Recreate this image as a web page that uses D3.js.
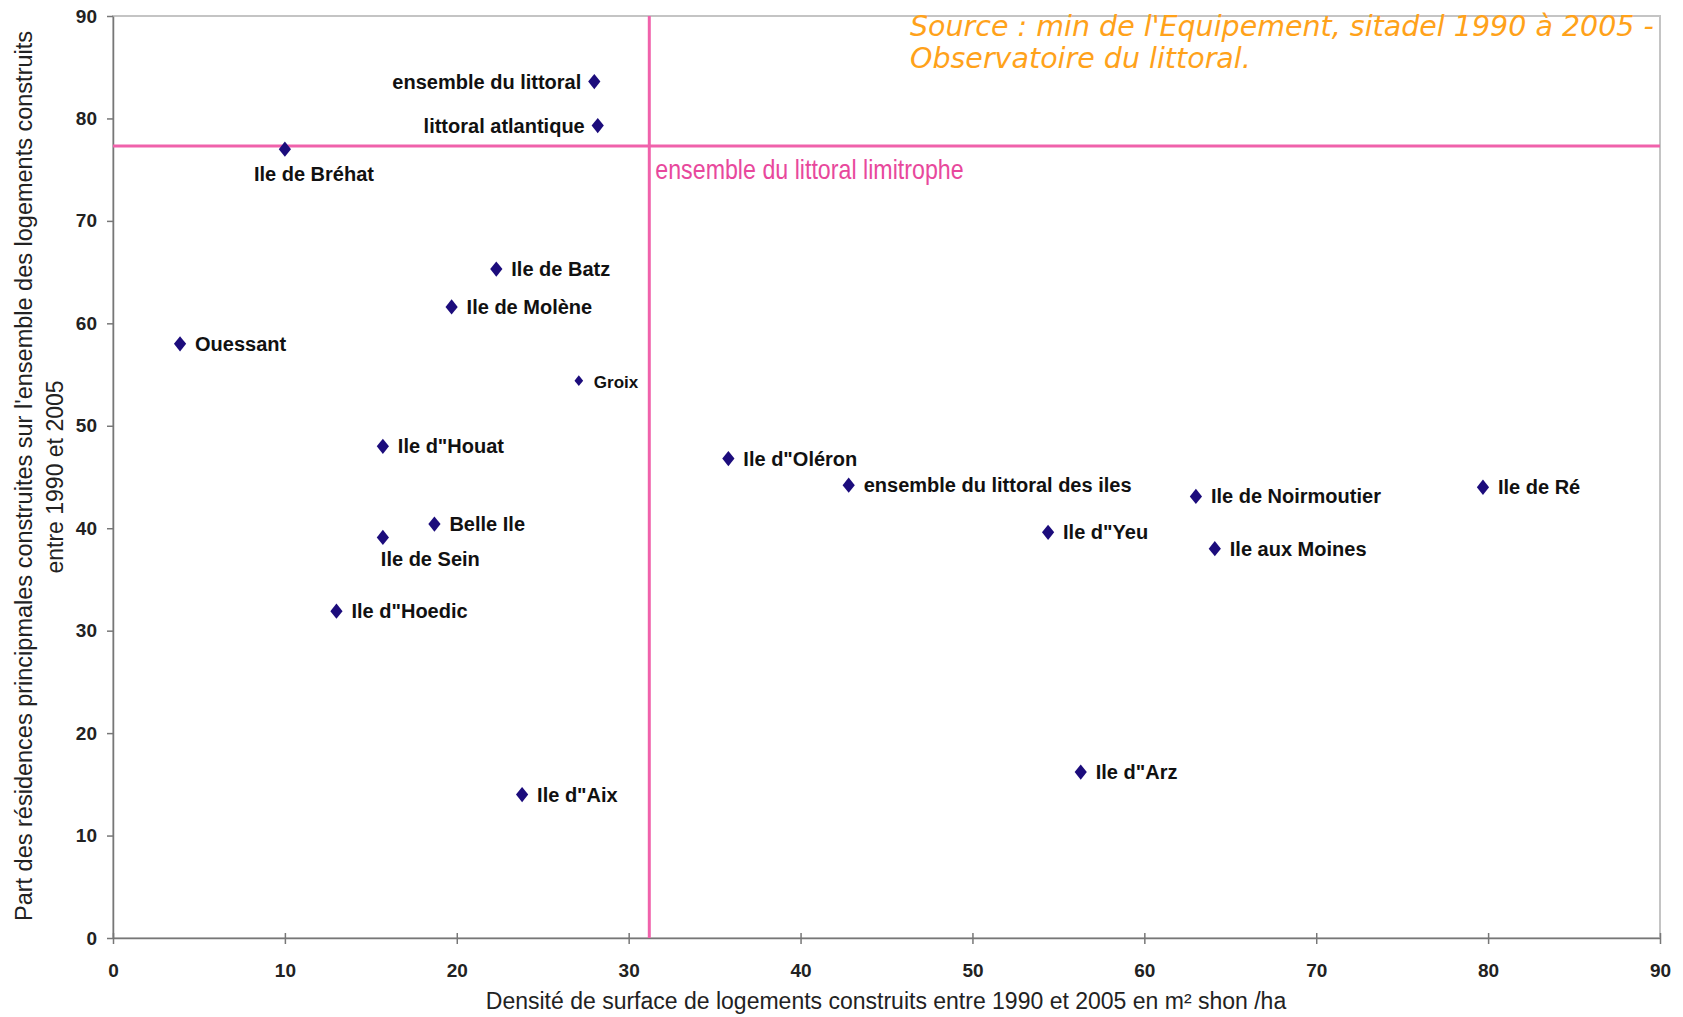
<!DOCTYPE html>
<html>
<head>
<meta charset="utf-8">
<script src="https://cdn.jsdelivr.net/npm/d3@7"></script>
<style>
	body{margin:0;background:#fff;}
	svg{display:block;}
	.lbl{font-family:"Liberation Sans",Arial,sans-serif;font-weight:bold;fill:#111;}
	.axis text{font-family:"Liberation Sans",Arial,sans-serif;font-weight:bold;font-size:19px;fill:#222;}
	.axis path, .axis line{stroke:#777;stroke-width:1.5;}
</style>
</head>
<body>
<svg width="1683" height="1017"></svg>
<script>
var names = ["ensemble du littoral", "littoral atlantique", "Ile de Bréhat", "Ile de Batz", "Ile de Molène",
	"Ouessant", "Groix", "Ile d\"Houat", "Ile d\"Oléron", "ensemble du littoral des iles", "Ile de Noirmoutier",
	"Ile de Ré", "Belle Ile", "Ile de Sein", "Ile d\"Yeu", "Ile aux Moines", "Ile d\"Hoedic", "Ile d\"Aix", "Ile d\"Arz"];
var densite = [28.0, 28.2, 10.0, 22.3, 19.7, 3.9, 27.1, 15.7, 35.8, 42.8, 63.0, 79.7, 18.7, 15.7, 54.4, 64.1, 13.0, 23.8, 56.3];
var partRP = [83.6, 79.3, 77.0, 65.3, 61.6, 58.0, 54.4, 48.0, 46.8, 44.2, 43.1, 44.0, 40.4, 39.1, 39.6, 38.0, 31.9, 14.0, 16.2];
var xTicks = [0, 10, 20, 30, 40, 50, 60, 70, 80, 90];
var yTicks = [0, 10, 20, 30, 40, 50, 60, 70, 80, 90];
var limitropheX = 31.2, limitropheY = 77.3;

var leftLabel = ["ensemble du littoral", "littoral atlantique"];

var data = names.map(function(n, i){ return {name: n, x: densite[i], y: partRP[i]}; });

var mySvg = d3.select("svg");
var x = d3.scaleLinear().domain([0, 90]).range([113, 1660]);
var y = d3.scaleLinear().domain([0, 90]).range([938, 16]);

// cadre gris
mySvg.append("rect")
	.attr("x", x(0)).attr("y", y(90))
	.attr("width", x(90) - x(0)).attr("height", y(0) - y(90))
	.style("fill", "none").style("stroke", "#c4c4c4").style("stroke-width", 2);

var xAxisGroup = mySvg.append("g").attr("class", "axis")
	.attr("transform", "translate(0," + y(0) + ")")
	.call(d3.axisBottom(x).tickValues(xTicks).tickSizeInner(6).tickSizeOuter(0).tickPadding(20));
xAxisGroup.selectAll(".tick line").attr("y1", -5);

mySvg.append("g").attr("class", "axis")
	.attr("transform", "translate(" + x(0) + ",0)")
	.call(d3.axisLeft(y).tickValues(yTicks).tickSizeInner(6).tickSizeOuter(0).tickPadding(10));

// lignes de référence
mySvg.append("line")
	.attr("x1", x(0)).attr("x2", x(90))
	.attr("y1", y(limitropheY)).attr("y2", y(limitropheY))
	.style("stroke", "#f062ab").style("stroke-width", 3);
mySvg.append("line")
	.attr("x1", x(limitropheX)).attr("x2", x(limitropheX))
	.attr("y1", y(0)).attr("y2", y(90))
	.style("stroke", "#f062ab").style("stroke-width", 3);
mySvg.append("text")
	.attr("transform", "translate(" + (x(limitropheX) + 6) + "," + (y(limitropheY) + 33) + ") scale(0.86,1)")
	.style("font-family", "'Liberation Sans',Arial,sans-serif")
	.style("font-size", "27px").style("fill", "#e8489c")
	.text("ensemble du littoral limitrophe");

var diamond = {
	draw: function(ctx, size){
		var h = Math.sqrt(size) * 0.54, w = h * 0.8;
		ctx.moveTo(0, -h); ctx.lineTo(w, 0); ctx.lineTo(0, h); ctx.lineTo(-w, 0); ctx.closePath();
	}
};

mySvg.append("g").selectAll("path")
	.data(data)
	.enter()
	.append("path")
	.attr("d", d => d3.symbol().type(diamond).size(d.name == "Groix" ? 100 : 200)())
	.attr("transform", d => "translate(" + x(d.x) + "," + y(d.y) + ")")
	.style("fill", "#1c0c7c");

mySvg.append("g").selectAll("text")
	.data(data)
	.enter()
	.append("text")
	.attr("class", "lbl")
	.style("font-size", d => d.name == "Groix" ? "17px" : "20px")
	.attr("x", function(d){
		if(leftLabel.indexOf(d.name) >= 0) return x(d.x) - 13;
		if(d.name == "Ile de Bréhat") return x(d.x) - 31;
		if(d.name == "Ile de Sein") return x(d.x) - 2;
		return x(d.x) + 15;
	})
	.attr("y", function(d){
		if(d.name == "Ile de Bréhat") return y(d.y) + 32;
		if(d.name == "Ile de Sein") return y(d.y) + 29;
		return y(d.y) + 7;
	})
	.attr("text-anchor", d => leftLabel.indexOf(d.name) >= 0 ? "end" : "start")
	.text(d => d.name);

// titres des axes
mySvg.append("text")
	.attr("x", 886).attr("y", 1009)
	.attr("text-anchor", "middle")
	.style("font-family", "'Liberation Sans',Arial,sans-serif").style("font-size", "23px").style("fill", "#222")
	.text("Densité de surface de logements construits entre 1990 et 2005 en m² shon /ha");

mySvg.append("text")
	.attr("transform", "translate(32,476) rotate(-90)")
	.attr("text-anchor", "middle")
	.style("font-family", "'Liberation Sans',Arial,sans-serif").style("font-size", "23.5px").style("fill", "#222")
	.text("Part des résidences principmales construites sur l'ensemble des logements construits");
mySvg.append("text")
	.attr("transform", "translate(63,477) rotate(-90)")
	.attr("text-anchor", "middle")
	.style("font-family", "'Liberation Sans',Arial,sans-serif").style("font-size", "23px").style("fill", "#222")
	.text("entre 1990 et 2005");

// source
var src = mySvg.append("text")
	.style("font-family", "'DejaVu Sans',Verdana,sans-serif").style("font-style", "italic")
	.style("font-weight", 300).style("font-size", "28.5px").style("fill", "#ffa21a");
src.append("tspan").attr("x", 910).attr("y", 36).text("Source : min de l'Equipement, sitadel 1990 à 2005 -");
src.append("tspan").attr("x", 910).attr("y", 68).text("Observatoire du littoral.");
</script>
</body>
</html>
